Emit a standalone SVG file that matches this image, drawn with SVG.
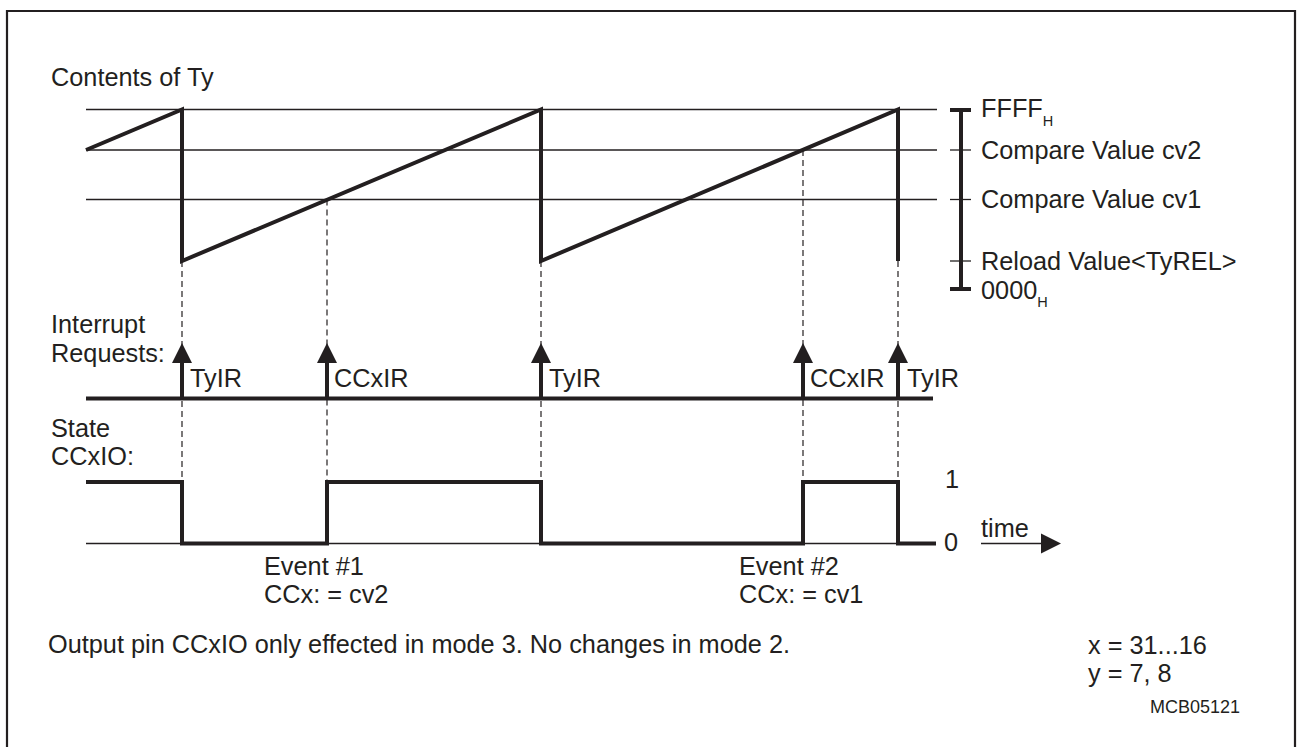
<svg xmlns="http://www.w3.org/2000/svg" width="1297" height="747" viewBox="0 0 1297 747">
<style>
text{font-family:"Liberation Sans",Arial,sans-serif;font-size:25.3px;fill:#231f20}
.sub{font-size:14.5px}
.small{font-size:18px}
.thin{stroke:#231f20;stroke-width:1.3;fill:none}
.thick{stroke:#231f20;stroke-width:4;fill:none;stroke-linejoin:miter}
.dash{stroke:#231f20;stroke-width:1.2;fill:none;stroke-dasharray:6,4}
.head{fill:#231f20}
</style>
<rect width="1297" height="747" fill="#fff"/>
<path d="M7,747 V11 H1295 V747" fill="none" stroke="#231f20" stroke-width="2.2"/>

<g id="labels">
<text x="51" y="86">Contents of Ty</text>
<text x="51" y="333">Interrupt</text>
<text x="51" y="362">Requests:</text>
<text x="51" y="437">State</text>
<text x="51" y="465">CCxIO:</text>
<text x="48" y="653">Output pin CCxIO only effected in mode 3. No changes in mode 2.</text>
<text x="1088" y="654">x = 31...16</text>
<text x="1088" y="682">y = 7, 8</text>
<text class="small" x="1150" y="713">MCB05121</text>
</g>

<g id="grid">
<line class="thin" x1="86" y1="109.5" x2="937" y2="109.5"/>
<line class="thin" x1="86" y1="150" x2="937" y2="150"/>
<line class="thin" x1="86" y1="199.5" x2="937" y2="199.5"/>
</g>

<g id="scale">
<line class="thick" x1="961" y1="110" x2="961" y2="289"/>
<line class="thick" x1="950" y1="110" x2="971" y2="110"/>
<line class="thick" x1="950" y1="289" x2="971" y2="289"/>
<line class="thin" x1="950" y1="150" x2="971" y2="150"/>
<line class="thin" x1="950" y1="199.5" x2="971" y2="199.5"/>
<line class="thin" x1="950" y1="261" x2="971" y2="261"/>
<text x="981" y="117">FFFF<tspan class="sub" dy="9">H</tspan></text>
<text x="981" y="159">Compare Value cv2</text>
<text x="981" y="208">Compare Value cv1</text>
<text x="981" y="270">Reload Value&lt;TyREL&gt;</text>
<text x="981" y="299">0000<tspan class="sub" dy="8">H</tspan></text>
</g>

<g id="sawtooth">
<path class="thick" d="M86,150 L182,109.5 L182,261 L541,109.5 L541,261 L898,109.5 L898,261"/>
</g>

<g id="connectors">
<line class="dash" x1="182" y1="261" x2="182" y2="482"/>
<line class="dash" x1="327" y1="199.5" x2="327" y2="482"/>
<line class="dash" x1="541" y1="261" x2="541" y2="482"/>
<line class="dash" x1="803" y1="150" x2="803" y2="482"/>
<line class="dash" x1="898" y1="261" x2="898" y2="482"/>
</g>

<g id="interrupts">
<line class="thick" x1="86" y1="398.5" x2="933" y2="398.5" stroke-width="3.5"/>
<g id="irq1"><line class="thick" x1="182" y1="398" x2="182" y2="360" stroke-width="3.5"/><polygon class="head" points="182,343 192,363 172,363"/><text x="190" y="387">TyIR</text></g>
<g id="irq2"><line class="thick" x1="327" y1="398" x2="327" y2="360" stroke-width="3.5"/><polygon class="head" points="327,343 337,363 317,363"/><text x="334" y="387">CCxIR</text></g>
<g id="irq3"><line class="thick" x1="541" y1="398" x2="541" y2="360" stroke-width="3.5"/><polygon class="head" points="541,343 551,363 531,363"/><text x="549" y="387">TyIR</text></g>
<g id="irq4"><line class="thick" x1="803" y1="398" x2="803" y2="360" stroke-width="3.5"/><polygon class="head" points="803,343 813,363 793,363"/><text x="810" y="387">CCxIR</text></g>
<g id="irq5"><line class="thick" x1="898" y1="398" x2="898" y2="360" stroke-width="3.5"/><polygon class="head" points="898,343 908,363 888,363"/><text x="907" y="387">TyIR</text></g>
</g>

<g id="state">
<line class="thin" x1="86" y1="543.5" x2="936" y2="543.5"/>
<path class="thick" d="M86,482 H182 V543.5 H327 V482 H541 V543.5 H803 V482 H898 V543.5 H936" stroke-width="3.5"/>
<text x="945" y="488">1</text>
<text x="944" y="551">0</text>
<text x="981" y="537">time</text>
<line class="thin" x1="981" y1="543.5" x2="1042" y2="543.5" stroke-width="1.6"/>
<polygon class="head" points="1041,533.5 1061,543.5 1041,553.5"/>
<text x="264" y="575">Event #1</text>
<text x="264" y="603">CCx: = cv2</text>
<text x="739" y="575">Event #2</text>
<text x="739" y="603">CCx: = cv1</text>
</g>
</svg>
